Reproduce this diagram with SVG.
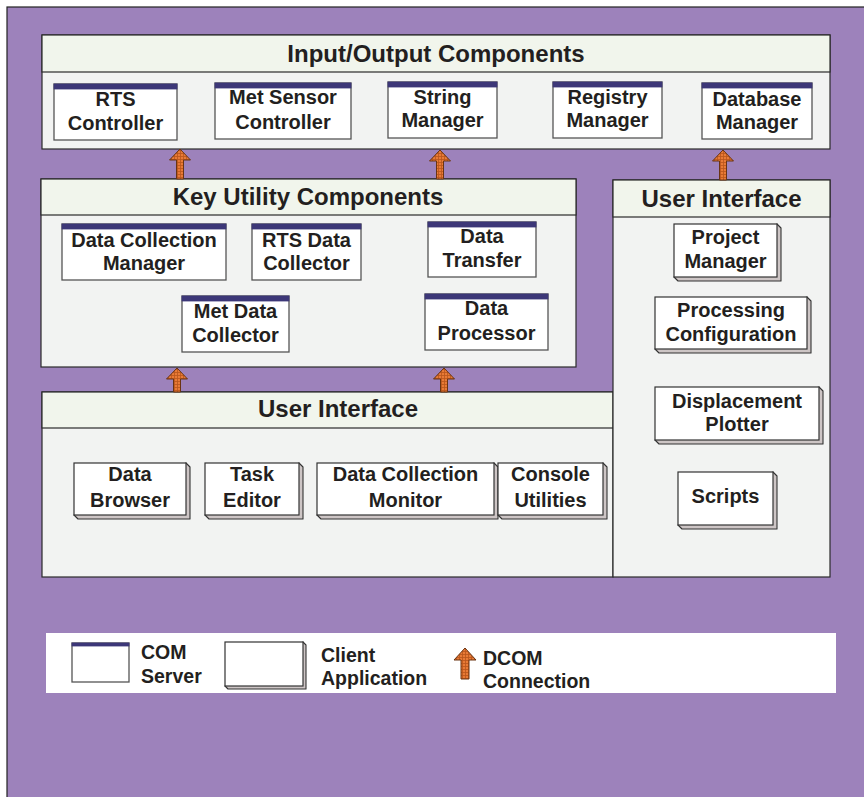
<svg xmlns="http://www.w3.org/2000/svg" width="864" height="797" viewBox="0 0 864 797">
<style>
.t{font-family:"Liberation Sans",Arial,sans-serif;font-weight:bold;fill:#231f20;text-anchor:middle}
.lbl{font-size:20px}
.ttl{font-size:24px}
.leg{font-size:19.5px;text-anchor:start}
.panel{fill:#f2f3f2;stroke:#2a2a2a;stroke-width:1.2}
.hdr{fill:#f1f5ec;stroke:#2a2a2a;stroke-width:1.2}
.com{fill:#fff;stroke:#555;stroke-width:1.3}
.bar{fill:#3d3778;stroke:#3d3778;stroke-width:0.8}
.face{fill:#fff;stroke:#333;stroke-width:1.2}
.shd{fill:#cdc5c5;stroke:#333;stroke-width:1.1;stroke-linejoin:round}
.arr{fill:url(#hatch);stroke:#6a3412;stroke-width:1}
</style>
<defs>
<pattern id="hatch" width="3" height="3" patternUnits="userSpaceOnUse">
<rect width="3" height="3" fill="#e87a36"/>
<path d="M0 0.5H3M0.5 0V3" stroke="#b9561c" stroke-width="0.8"/>
</pattern>
</defs>
<rect x="7" y="7" width="870" height="800" fill="#9d82bb" stroke="#222" stroke-width="1.2"/>

<g id="io-panel">
<rect class="panel" x="42" y="35" width="788" height="114"/>
<rect class="hdr" x="42" y="35" width="788" height="37"/>
<text class="t ttl" x="436" y="62">Input/Output Components</text>
</g>
<g id="rts-controller"><rect class="com" x="54" y="84" width="123" height="56"/><rect class="bar" x="54" y="84" width="123" height="5"/><text class="t lbl" x="115.5" y="106">RTS</text><text class="t lbl" x="115.5" y="130">Controller</text></g>
<g id="met-sensor-controller"><rect class="com" x="215" y="83" width="136" height="56"/><rect class="bar" x="215" y="83" width="136" height="5"/><text class="t lbl" x="283" y="104">Met Sensor</text><text class="t lbl" x="283" y="129">Controller</text></g>
<g id="string-manager"><rect class="com" x="388" y="82" width="109" height="56"/><rect class="bar" x="388" y="82" width="109" height="5"/><text class="t lbl" x="442.5" y="104">String</text><text class="t lbl" x="442.5" y="127">Manager</text></g>
<g id="registry-manager"><rect class="com" x="553" y="82" width="109" height="56"/><rect class="bar" x="553" y="82" width="109" height="5"/><text class="t lbl" x="607.5" y="104">Registry</text><text class="t lbl" x="607.5" y="127">Manager</text></g>
<g id="database-manager"><rect class="com" x="702" y="83" width="110" height="56"/><rect class="bar" x="702" y="83" width="110" height="5"/><text class="t lbl" x="757" y="106">Database</text><text class="t lbl" x="757" y="129">Manager</text></g>

<g id="key-utility-panel">
<rect class="panel" x="41" y="179" width="535" height="188"/>
<rect class="hdr" x="41" y="179" width="535" height="36"/>
<text class="t ttl" x="308" y="205">Key Utility Components</text>
</g>
<g id="data-collection-manager"><rect class="com" x="62" y="224" width="164" height="56"/><rect class="bar" x="62" y="224" width="164" height="5"/><text class="t lbl" x="144" y="247">Data Collection</text><text class="t lbl" x="144" y="270">Manager</text></g>
<g id="rts-data-collector"><rect class="com" x="252" y="224" width="109" height="56"/><rect class="bar" x="252" y="224" width="109" height="5"/><text class="t lbl" x="306.5" y="247">RTS Data</text><text class="t lbl" x="306.5" y="270">Collector</text></g>
<g id="data-transfer"><rect class="com" x="428" y="222" width="108" height="55"/><rect class="bar" x="428" y="222" width="108" height="5"/><text class="t lbl" x="482" y="243">Data</text><text class="t lbl" x="482" y="267">Transfer</text></g>
<g id="met-data-collector"><rect class="com" x="182" y="296" width="107" height="56"/><rect class="bar" x="182" y="296" width="107" height="5"/><text class="t lbl" x="235.5" y="318">Met Data</text><text class="t lbl" x="235.5" y="342">Collector</text></g>
<g id="data-processor"><rect class="com" x="425" y="294" width="123" height="56"/><rect class="bar" x="425" y="294" width="123" height="5"/><text class="t lbl" x="486.5" y="315">Data</text><text class="t lbl" x="486.5" y="340">Processor</text></g>

<g id="ui-bottom-panel">
<rect class="panel" x="42" y="392" width="571" height="185"/>
<rect class="hdr" x="42" y="392" width="571" height="36"/>
<text class="t ttl" x="338" y="417">User Interface</text>
</g>
<g id="ui-right-panel">
<rect class="panel" x="613" y="180" width="217" height="397"/>
<rect class="hdr" x="613" y="180" width="217" height="37"/>
<text class="t ttl" x="721.5" y="207">User Interface</text>
</g>

<g id="project-manager"><path class="shd" d="M777 224L781 228V281H678L674 277Z"/><rect class="face" x="674" y="224" width="103" height="53"/><text class="t lbl" x="725.5" y="244">Project</text><text class="t lbl" x="725.5" y="268">Manager</text></g>
<g id="processing-configuration"><path class="shd" d="M807 297L811 301V353H659L655 349Z"/><rect class="face" x="655" y="297" width="152" height="52"/><text class="t lbl" x="731" y="317">Processing</text><text class="t lbl" x="731" y="341">Configuration</text></g>
<g id="displacement-plotter"><path class="shd" d="M819 387L823 391V444H659L655 440Z"/><rect class="face" x="655" y="387" width="164" height="53"/><text class="t lbl" x="737" y="408">Displacement</text><text class="t lbl" x="737" y="431">Plotter</text></g>
<g id="scripts"><path class="shd" d="M773 472L777 476V529H682L678 525Z"/><rect class="face" x="678" y="472" width="95" height="53"/><text class="t lbl" x="725.5" y="503">Scripts</text></g>
<g id="data-browser"><path class="shd" d="M186 463L190 467V519H78L74 515Z"/><rect class="face" x="74" y="463" width="112" height="52"/><text class="t lbl" x="130" y="481">Data</text><text class="t lbl" x="130" y="507">Browser</text></g>
<g id="task-editor"><path class="shd" d="M299 463L303 467V519H209L205 515Z"/><rect class="face" x="205" y="463" width="94" height="52"/><text class="t lbl" x="252" y="481">Task</text><text class="t lbl" x="252" y="507">Editor</text></g>
<g id="data-collection-monitor"><path class="shd" d="M494 463L498 467V519H321L317 515Z"/><rect class="face" x="317" y="463" width="177" height="52"/><text class="t lbl" x="405.5" y="481">Data Collection</text><text class="t lbl" x="405.5" y="507">Monitor</text></g>
<g id="console-utilities"><path class="shd" d="M603 463L607 467V519H502L498 515Z"/><rect class="face" x="498" y="463" width="105" height="52"/><text class="t lbl" x="550.5" y="481">Console</text><text class="t lbl" x="550.5" y="507">Utilities</text></g>

<g id="connectors">
<path class="arr" d="M180 149L190.5 160H183.5V179H176.5V160H169.5Z"/>
<path class="arr" d="M440 150L450.5 161H443.5V179H436.5V161H429.5Z"/>
<path class="arr" d="M723 150L733.5 161H726.5V180H719.5V161H712.5Z"/>
<path class="arr" d="M177 368L187.5 379H180.5V392H173.5V379H166.5Z"/>
<path class="arr" d="M444 368L454.5 379H447.5V392H440.5V379H433.5Z"/>
</g>

<g id="legend">
<rect x="46" y="633" width="790" height="60" fill="#fff"/>
<rect class="com" x="72" y="643" width="57" height="39"/><rect class="bar" x="72" y="643" width="57" height="3"/>
<text class="t leg" x="141" y="659">COM</text><text class="t leg" x="141" y="683">Server</text>
<path class="shd" d="M303 642L306 645V689H228L225 686Z"/><rect class="face" x="225" y="642" width="78" height="44"/>
<text class="t leg" x="321" y="662">Client</text><text class="t leg" x="321" y="685">Application</text>
<path class="arr" d="M465 648L476 660H469V679H461V660H454Z"/>
<text class="t leg" x="483" y="665">DCOM</text><text class="t leg" x="483" y="688">Connection</text>
</g>
</svg>
